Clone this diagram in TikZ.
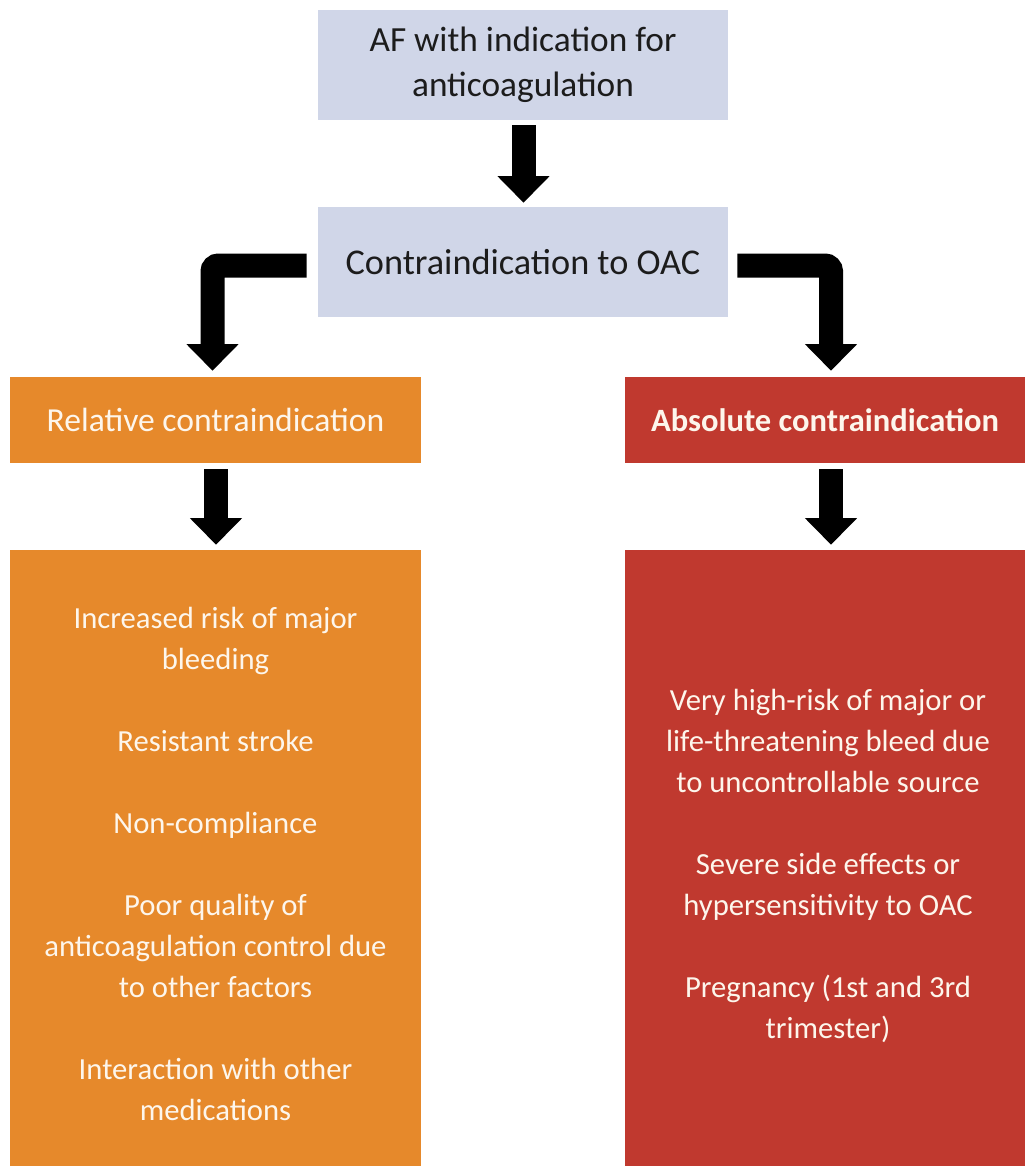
\documentclass[tikz,border=0pt]{standalone}
\usepackage{fontspec}
\setmainfont{Carlito}
\usetikzlibrary{arrows.meta,calc}
\definecolor{boxblue}{RGB}{208,214,232}
\definecolor{relorange}{RGB}{230,137,43}
\definecolor{absred}{RGB}{192,57,47}
\definecolor{lighttext}{RGB}{253,246,236}
\definecolor{darktext}{RGB}{28,28,28}
\begin{document}
\begin{tikzpicture}[x=0.75pt,y=-0.75pt,
  topbox/.style={fill=boxblue, minimum width=307.5pt, minimum height=82.5pt, inner sep=0pt,
    align=center, text=darktext, font=\fontsize{26.5pt}{33.75pt}\selectfont},
  headbox/.style={minimum height=64.5pt, inner sep=0pt, align=center, text=lighttext,
    font=\fontsize{25.2pt}{30pt}\selectfont},
  listbox/.style={minimum height=462pt, inner sep=0pt},
  listtext/.style={inner sep=0pt, align=center, text=lighttext,
    font=\fontsize{23pt}{30.75pt}\selectfont},
  blockarrow/.style={draw=black, line width=18pt, -{Triangle[width=38pt,length=20pt]}}
]
\useasboundingbox (0,0) rectangle (1025,1166);

\node[topbox] (af) at (523,65) {\rule{0pt}{4.5pt}AF with indication for\\anticoagulation};
\node[topbox, font=\fontsize{27.2pt}{33.75pt}\selectfont] (ci) at (523,262) {Contraindication to OAC};

\node[headbox, fill=relorange, minimum width=308.25pt] (rel) at (215.5,420) {Relative contraindication};
\node[headbox, fill=absred, minimum width=300pt, font=\fontsize{24.4pt}{30pt}\selectfont\bfseries] (abs) at (825,420) {Absolute contraindication};

\node[listbox, fill=relorange, minimum width=308.25pt] (rl) at (215.5,858) {};
\node[listbox, fill=absred, minimum width=300pt] (al) at (825,858) {};

\node[listtext] (rltext) at (215.5,864)
  {Increased risk of major\\bleeding\\[30.75pt]Resistant stroke\\[30.75pt]Non-compliance\\[30.75pt]Poor quality of\\anticoagulation control due\\to other factors\\[30.75pt]Interaction with other\\medications};
\node[listtext] (altext) at (828,866)
  {Very high-risk of major or\\life-threatening bleed due\\to uncontrollable source\\[30.75pt]Severe side effects or\\hypersensitivity to OAC\\[30.75pt]Pregnancy (1st and 3rd\\trimester)};

\draw[blockarrow] ($(af.south)+(0.5,5)$) -- ($(ci.north)+(0.5,-4)$);
\draw[blockarrow, rounded corners=4.5pt] ($(ci.west)+(-11,3.5)$) -| ($(rel.north)+(-3,-6)$);
\draw[blockarrow, rounded corners=4.5pt] ($(ci.east)+(9,3.5)$) -| ($(abs.north)+(6,-6)$);
\draw[blockarrow] ($(rel.south)+(0.5,6)$) -- ($(rl.north)+(0.5,-5)$);
\draw[blockarrow] ($(abs.south)+(6,6)$) -- ($(al.north)+(6,-5)$);
\end{tikzpicture}
\end{document}
